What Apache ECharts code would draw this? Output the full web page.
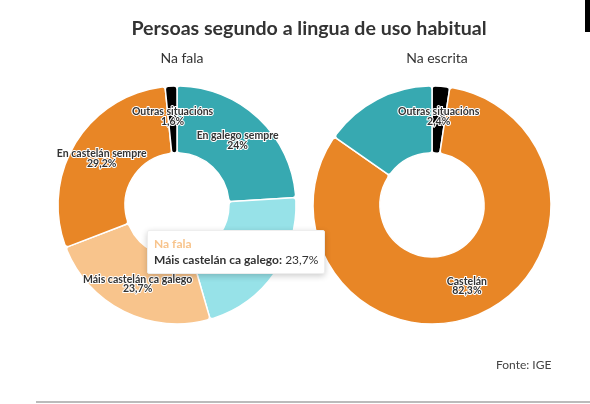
<!DOCTYPE html>
<html>
<head>
<meta charset="utf-8">
<script src="https://cdn.jsdelivr.net/npm/echarts@6/dist/echarts.min.js"></script>
<style>
  html, body { margin: 0; padding: 0; background: #fff; }
  #chart { width: 590px; height: 404px; }
</style>
</head>
<body>
<div id="chart"></div>
<script>
// datos
var titulo = 'Persoas segundo a lingua de uso habitual';
var falaNomes = ['En galego sempre', 'Máis galego ca castelán', 'Máis castelán ca galego', 'En castelán sempre', 'Outras situacións'];
var falaValores = [24, 21.5, 23.7, 29.2, 1.6];
var falaCores = ['#37a9b1', '#97e2e8', '#f8c48c', '#e88626', '#000000'];
var escritaNomes = ['Outras situacións', 'Castelán', 'Galego'];
var escritaValores = [2.4, 82.3, 15.3];
var escritaCores = ['#000000', '#e88626', '#37a9b1'];
// etiquetas ocultas (tapadas por outra no orixinal)
var escritaOcultas = ['Galego'];

function fmt(v){
  return String(v).replace('.', ',') + '%';
}

function pieData(nomes, valores, cores, ocultas){
  var out = [];
  for (let i = 0; i < nomes.length; i++){
    let d = { name: nomes[i], value: valores[i], itemStyle: { color: cores[i] } };
    if (ocultas && ocultas.indexOf(nomes[i]) >= 0){
      d.label = { show: false };
    }
    out.push(d);
  }
  return out;
}

var fontFam = 'Lato, "Open Sans", sans-serif';

function serie(nome, centro, datos){
  return {
    name: nome,
    type: 'pie',
    center: centro,
    radius: [52, 119],
    startAngle: 90,
    clockwise: true,
    avoidLabelOverlap: false,
    minShowLabelAngle: 0,
    itemStyle: { borderColor: '#fff', borderWidth: 1.5, borderRadius: 3 },
    label: {
      show: true,
      position: 'inside',
      formatter: function(p){ return p.name + '\n' + fmt(p.value); },
      color: '#333',
      fontFamily: fontFam,
      fontSize: 10.5,
      fontWeight: 'bold',
      lineHeight: 9.5,
      textBorderColor: '#fff',
      textBorderWidth: 2
    },
    labelLayout: { hideOverlap: false },
    emphasis: { scale: false },
    data: datos
  };
}

var myChart = echarts.init(document.getElementById('chart'));
var option = {
  animation: false,
  title: [
    { text: titulo, left: 304, top: 14, textAlign: 'center',
      textStyle: { fontFamily: fontFam, fontSize: 19.6, fontWeight: 'bold', color: '#333' } },
    { text: 'Na fala', left: 177, top: 46, textAlign: 'center',
      textStyle: { fontFamily: fontFam, fontSize: 14, fontWeight: 'normal', color: '#333' } },
    { text: 'Na escrita', left: 432, top: 46, textAlign: 'center',
      textStyle: { fontFamily: fontFam, fontSize: 14, fontWeight: 'normal', color: '#333' } }
  ],
  tooltip: {
    trigger: 'item',
    position: [147, 230],
    backgroundColor: '#fff',
    borderColor: '#eee',
    borderWidth: 1,
    padding: [5, 6],
    extraCssText: 'box-shadow: 0 2px 6px rgba(0,0,0,0.2); border-radius: 2px;',
    formatter: function(p){
      return '<div style="font-family:Lato,sans-serif;color:' + p.color + ';font-size:12px;font-weight:bold;line-height:16px">' + p.seriesName + '</div>' +
        '<div style="font-family:Lato,sans-serif;color:#333;font-size:12px;line-height:16px"><b>' + p.name + ':</b> ' + fmt(p.value) + '</div>';
    }
  },
  graphic: [
    { type: 'rect', right: 0, top: 0, shape: { width: 5, height: 32 }, style: { fill: '#000' } },
    { type: 'text', left: 496, top: 359, style: { text: 'Fonte: IGE', fontFamily: fontFam, fontSize: 12, fill: '#444' } },
    { type: 'rect', left: 36, top: 401, shape: { width: 554, height: 2 }, style: { fill: '#bbb' } }
  ],
  series: [
    serie('Na fala', [177, 205], pieData(falaNomes, falaValores, falaCores)),
    serie('Na escrita', [432, 205], pieData(escritaNomes, escritaValores, escritaCores, escritaOcultas))
  ]
};
myChart.setOption(option);
myChart.dispatchAction({ type: 'showTip', seriesIndex: 0, dataIndex: 2 });
</script>
</body>
</html>
